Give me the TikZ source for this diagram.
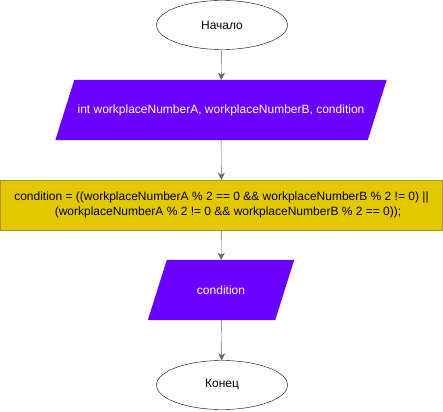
\documentclass[tikz,border=0pt]{standalone}
\usepackage{fontspec}
\setmainfont{Liberation Sans}
\usetikzlibrary{shapes.geometric,arrows.meta,backgrounds}
\definecolor{ioviolet}{HTML}{6A00FF}
\definecolor{procyellow}{HTML}{E3C800}
\definecolor{procedge}{HTML}{B09500}
\definecolor{linegray}{HTML}{666666}
\begin{document}
\begin{tikzpicture}[x=1pt,y=-1pt,
    font=\fontsize{12}{15}\selectfont,
    terminal/.style={ellipse, draw=black, fill=white, minimum width=131, minimum height=49, inner sep=0},
    iobox/.style={rectangle, text=white, minimum height=60, inner sep=0},
    procbox/.style={rectangle, draw=procedge, fill=procyellow, minimum width=442, minimum height=50,
        inner sep=0, align=center},
    flow/.style={draw=linegray, -{Stealth[length=7pt,width=7pt,inset=2pt]}}]
    \useasboundingbox (0,0) rectangle (443,411);

    % blocks
    \node[terminal] (start) at (222,25) {Начало};
    \node[iobox, minimum width=312] (vars) at (221,110) {int workplaceNumberA, workplaceNumberB, condition};
    \node[procbox] (calc) at (221.5,205) {condition = ((workplaceNumberA \% 2 == 0 \&\& workplaceNumberB \% 2 != 0) ||\\
        \hspace*{13pt}(workplaceNumberA \% 2 != 0 \&\& workplaceNumberB \% 2 == 0));};
    \node[iobox, minimum width=127] (out) at (221,290) {condition};
    \node[terminal] (stop) at (222,385) {Конец};

    % parallelograms behind the input/output text
    \begin{scope}[on background layer]
        \foreach \io in {vars,out}
            \fill[ioviolet] ([xshift=9.5]\io.north west) -- ([xshift=9.5]\io.north east)
                -- ([xshift=-9.5]\io.south east) -- ([xshift=-9.5]\io.south west) -- cycle;
    \end{scope}

    % arrows
    \draw[flow] (start) -- (vars);
    \draw[flow] (vars) -- (calc);
    \draw[flow] (calc) -- (out);
    \draw[flow] (out) -- (stop);
\end{tikzpicture}
\end{document}
